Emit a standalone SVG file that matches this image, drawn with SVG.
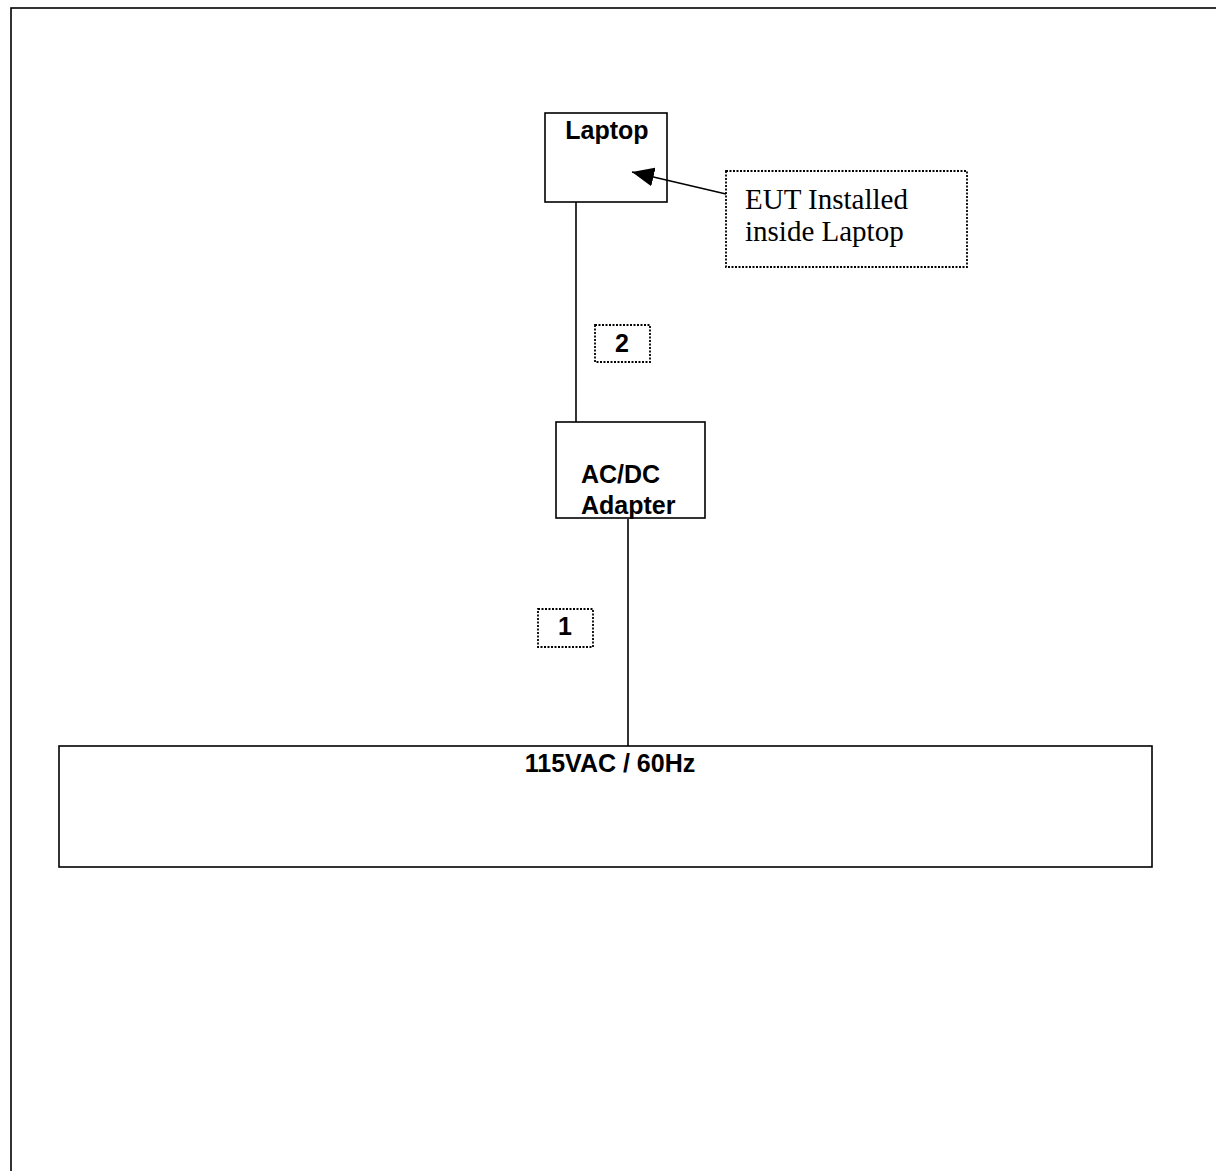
<svg xmlns="http://www.w3.org/2000/svg" width="1216" height="1171" viewBox="0 0 1216 1171">
<defs>
<style>
.box{fill:#fff;stroke:#000;stroke-width:1.6}
.dot{fill:#fff;stroke:#000;stroke-width:1.8;stroke-dasharray:2 1.5}
.ln{stroke:#000;stroke-width:1.6;fill:none}
.b{font-family:"Liberation Sans",Arial,sans-serif;font-weight:bold;font-size:25px;fill:#000}
.s{font-family:"Liberation Serif","Times New Roman",serif;font-size:29px;fill:#000}
</style>
<marker id="ah" markerWidth="22" markerHeight="19" refX="22" refY="9.5" orient="auto" markerUnits="userSpaceOnUse">
<path d="M0,0 L22,9.5 L0,19 Z" fill="#000"/>
</marker>
</defs>
<rect width="1216" height="1171" fill="#fff"/>
<rect id="frame" x="11" y="8" width="1400" height="1400" fill="none" stroke="#000" stroke-width="1.6"/>
<g id="laptop">
<rect class="box" x="545" y="113" width="122" height="89"/>
<text class="b" x="607" y="139" text-anchor="middle">Laptop</text>
</g>
<g id="eut">
<rect class="dot" x="726" y="171" width="241" height="96"/>
<text class="s" x="745" y="209">EUT Installed</text>
<text class="s" x="745" y="241">inside Laptop</text>
</g>
<g id="label2">
<rect class="dot" x="595" y="325" width="55" height="37"/>
<text class="b" x="622" y="352" text-anchor="middle">2</text>
</g>
<g id="adapter">
<rect class="box" x="556" y="422" width="149" height="96"/>
<text class="b" x="581" y="483">AC/DC</text>
<text class="b" x="581" y="514">Adapter</text>
</g>
<g id="label1">
<rect class="dot" x="538" y="609" width="55" height="38"/>
<text class="b" x="565" y="635" text-anchor="middle">1</text>
</g>
<g id="mains">
<rect class="box" x="59" y="746" width="1093" height="121"/>
<text class="b" x="610" y="772" text-anchor="middle">115VAC / 60Hz</text>
</g>
<g id="connectors">
<line class="ln" x1="576" y1="202" x2="576" y2="422"/>
<line class="ln" x1="628" y1="519" x2="628" y2="746"/>
<line class="ln" x1="726" y1="194" x2="632" y2="172" marker-end="url(#ah)"/>
</g>
</svg>
